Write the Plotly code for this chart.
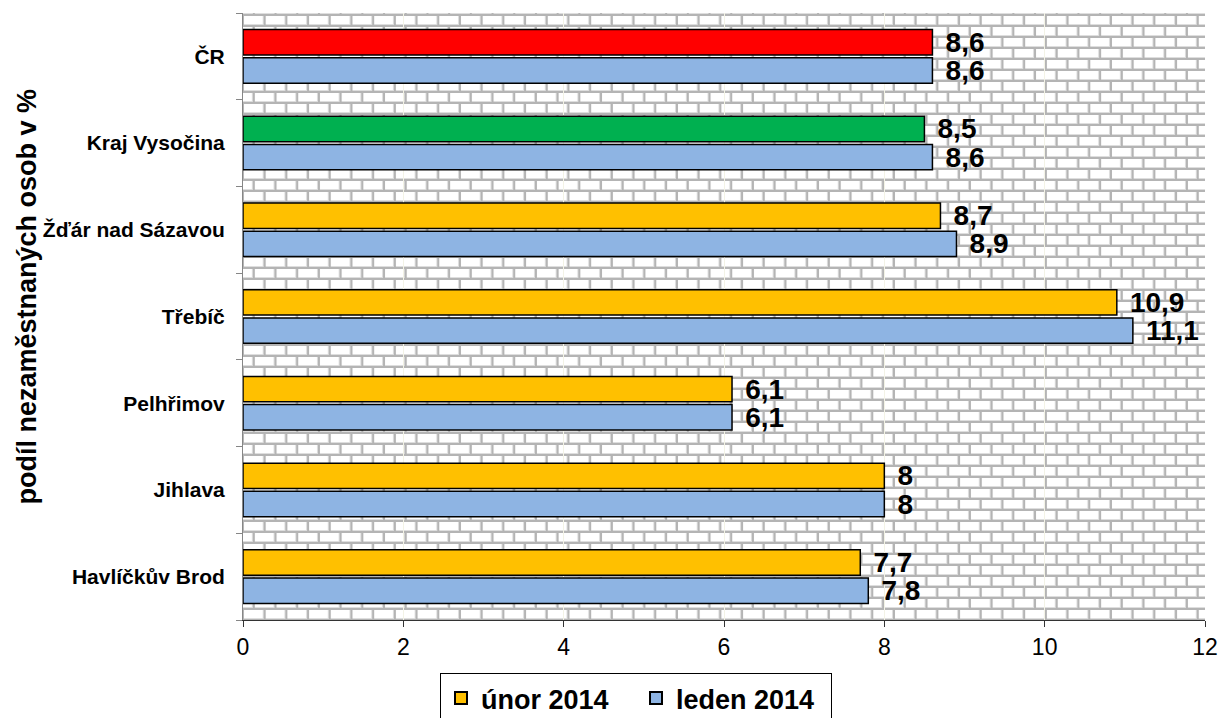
import base64
import plotly.graph_objects as go

categories = ["Havlíčkův Brod", "Jihlava", "Pelhřimov", "Třebíč",
              "Žďár nad Sázavou", "Kraj Vysočina", "ČR"]
unor_2014 = [7.7, 8.0, 6.1, 10.9, 8.7, 8.5, 8.6]
leden_2014 = [7.8, 8.0, 6.1, 11.1, 8.9, 8.6, 8.6]
series_names = ["únor 2014", "leden 2014"]
x_ticks = [0, 2, 4, 6, 8, 10, 12]
y_title = "podíl nezaměstnaných osob v %"

ORANGE = "#FFC000"
BLUE = "#8EB4E3"
RED = "#FF0000"
GREEN = "#00B050"
unor_colors = [ORANGE] * 5 + [GREEN, RED]

FONT = "Liberation Sans, Arial, sans-serif"

L, R, T, B = 243, 18, 13, 98
W, H = 1223, 718
PW, PH = W - L - R, H - T - B


def fmt(v):
    return "\u00a0\u200a" + f"{v:g}".replace(".", ",")


# brick background pattern for the plot area
svg = f"""<svg xmlns='http://www.w3.org/2000/svg' width='{PW}' height='{PH}'>
<defs><pattern id='b' width='21.7' height='22' patternUnits='userSpaceOnUse' x='0' y='2'>
<rect width='21.7' height='22' fill='#b4b4b4'/>
<rect x='1' y='1' width='19.7' height='9' fill='#dedede'/>
<rect x='1' y='1' width='18.7' height='8' fill='#ffffff'/>
<rect x='-9.85' y='12' width='19.7' height='9' fill='#dedede'/>
<rect x='-9.85' y='12' width='18.7' height='8' fill='#ffffff'/>
<rect x='11.85' y='12' width='19.7' height='9' fill='#dedede'/>
<rect x='11.85' y='12' width='18.7' height='8' fill='#ffffff'/>
</pattern></defs>
<rect width='100%' height='100%' fill='url(#b)'/></svg>"""
bg_uri = "data:image/svg+xml;base64," + base64.b64encode(svg.encode()).decode()

fig = go.Figure()
fig.add_trace(go.Bar(
    y=categories, x=leden_2014, orientation="h", name=series_names[1],
    marker=dict(color=BLUE, line=dict(color="black", width=1.5)),
    text=[fmt(v) for v in leden_2014], textposition="outside",
    textfont=dict(family=FONT, size=28, color="black", weight="bold"),
    constraintext="none", cliponaxis=False,
))
fig.add_trace(go.Bar(
    y=categories, x=unor_2014, orientation="h", name=series_names[0],
    marker=dict(color=unor_colors, line=dict(color="black", width=1.5)),
    text=[fmt(v) for v in unor_2014], textposition="outside",
    textfont=dict(family=FONT, size=28, color="black", weight="bold"),
    constraintext="none", cliponaxis=False,
))

fig.update_layout(
    width=W, height=H,
    margin=dict(l=L, r=R, t=T, b=B, autoexpand=False),
    paper_bgcolor="white", plot_bgcolor="white",
    barmode="group", bargap=0.35, bargroupgap=0.1,
    font=dict(family=FONT, color="black"),
    showlegend=True,
    legend=dict(
        orientation="h", traceorder="reversed",
        x=(440 - L) / PW, xanchor="left",
        y=-(673 - (T + PH)) / PH, yanchor="top",
        bordercolor="black", borderwidth=1, bgcolor="white",
        font=dict(family=FONT, size=27, color="black", weight="bold"),
        itemsizing="constant", entrywidth=150,
    ),
    xaxis=dict(
        range=[0, 12], tickvals=x_ticks, ticktext=[str(v) for v in x_ticks],
        showgrid=True, gridcolor="#f3f3e6", gridwidth=1,
        showline=True, linecolor="#333333", linewidth=1,
        ticks="outside", ticklen=6, tickcolor="#333333",
        tickfont=dict(family=FONT, size=23, color="black"),
        zeroline=False, fixedrange=True,
    ),
    yaxis=dict(
        type="category", categoryorder="array", categoryarray=categories,
        showgrid=False, showline=True, linecolor="#868686", linewidth=1,
        ticks="outside", ticklen=6, tickcolor="#868686", tickson="boundaries",
        tickfont=dict(family=FONT, size=21, color="black", weight="bold"),
        ticklabelstandoff=13, zeroline=False, fixedrange=True,
    ),
    images=[dict(
        source=bg_uri, xref="paper", yref="paper", x=0, y=1,
        sizex=1, sizey=1, xanchor="left", yanchor="top",
        sizing="stretch", layer="below",
    )],
    annotations=[dict(
        text=y_title, xref="paper", yref="paper",
        x=(26 - L) / PW, y=((T + PH) - 296.5) / PH,
        xanchor="center", yanchor="middle", textangle=-90, showarrow=False,
        font=dict(family=FONT, size=27, color="black", weight="bold"),
    )],
)

fig.write_html(
    "out.html",
    config={"displayModeBar": False},
    post_script="document.body.style.margin='0';document.body.style.padding='0';"
                "document.body.style.overflow='hidden';",
)
